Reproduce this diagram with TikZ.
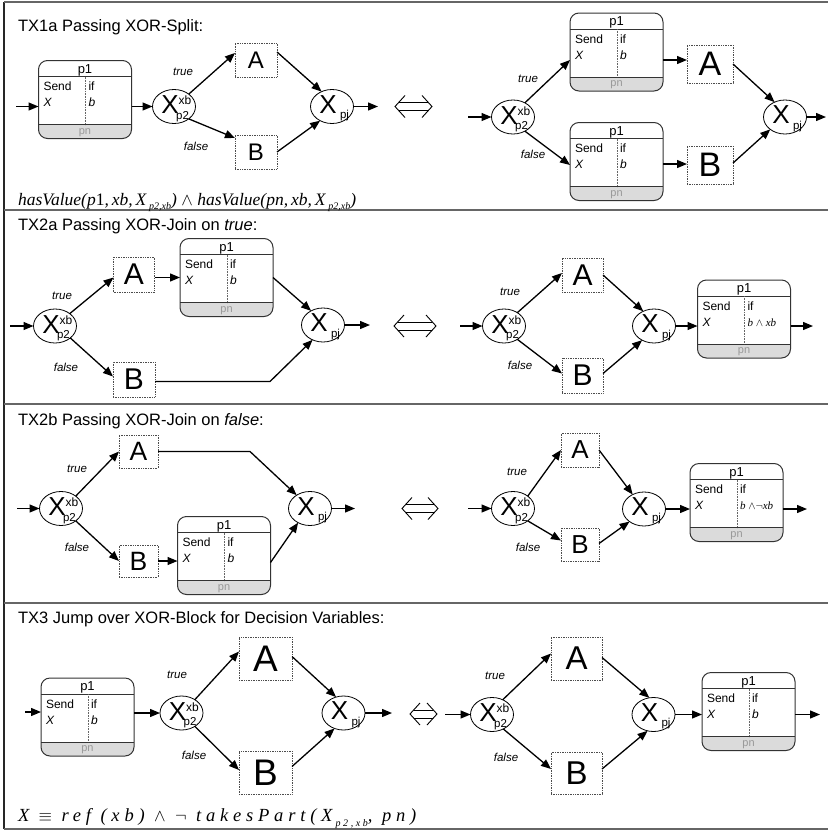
\documentclass[tikz,border=0pt]{standalone}
\usepackage{fontspec}
\setmainfont{Liberation Sans}
\newfontfamily\tms{Liberation Serif}
\newfontfamily\tmssp[LetterSpace=26]{Liberation Serif}
\usetikzlibrary{arrows.meta,shapes.geometric,calc}

\tikzset{
  every node/.style={inner sep=0pt, outer sep=0pt},
  fs/.style={font=\fontsize{#1}{#1}\selectfont},
  arr/.style={line width=1.3pt, -{Triangle[length=10pt,width=8pt]}},
  gw/.style={ellipse, draw, line width=0.8pt, minimum width=43pt, minimum height=34pt, fill=white},
  act/.style n args={3}{draw=black!70, densely dotted, line width=0.7pt, minimum width=#1pt, minimum height=#2pt, font=\fontsize{#3}{#3}\selectfont},
  pframe/.style={draw=black!80, line width=1pt, rounded corners=9pt},
  lab/.style={font=\fontsize{11.5}{12}\selectfont\itshape},
  ttl/.style={anchor=base west, font=\fontsize{16.5}{18}\selectfont},
  frm/.style={draw=black!60, line width=1.6pt},
  eqa/.style={line width=0.9pt},
}

\newcommand\procbox[3]{%
  \node[minimum width=93pt, minimum height=78pt] (#1) at #2 {};
  \begin{scope}
    \clip[rounded corners=9pt] (#1.south west) rectangle (#1.north east);
    \fill[black!14] ($(#1.south west)+(0,-14)$) rectangle (#1.south east);
  \end{scope}
  \draw[black!80, line width=1pt] ($(#1.north west)+(0,16)$) -- ($(#1.north east)+(0,16)$);
  \draw[black!80, line width=1pt] ($(#1.south west)+(0,-14)$) -- ($(#1.south east)+(0,-14)$);
  \draw[black!60, densely dotted, line width=0.6pt] ($(#1.north west)+(47,16)$) -- ($(#1.south west)+(47,-14)$);
  \draw[pframe] (#1.south west) rectangle (#1.north east);
  \node[anchor=base, fs=13] (#1-t) at ($(#1.north)+(0,12.5)$) {p1};
  \node[anchor=base west, fs=12] (#1-s) at ($(#1.north west)+(5,30)$) {Send};
  \node[anchor=base west, fs=12] (#1-x) at ($(#1.north west)+(5,46)$) {\itshape X};
  \node[anchor=base west, fs=12] (#1-i) at ($(#1.north west)+(50,30)$) {if};
  \node[anchor=base west, fs=12] (#1-b) at ($(#1.north west)+(50,46)$) {#3};
  \node[anchor=base, fs=11, text=black!40] (#1-n) at ($(#1.south)+(0,-4.2)$) {pn};
}
\newcommand\splitgw[2]{%
  \node[gw] (#1) at #2 {};
  \node[fs=26] (#1-X) at ($(#1)+(-4,-1.5)$) {X};
  \node[fs=12] (#1-s) at ($(#1)+(11,-6)$) {xb};
  \node[fs=11.5] (#1-b) at ($(#1)+(8.5,10)$) {p2};
}
\newcommand\joingw[2]{%
  \node[gw] (#1) at #2 {};
  \node[fs=26] (#1-X) at ($(#1)+(-4,-2)$) {X};
  \node[fs=11.5] (#1-b) at ($(#1)+(12.5,9.5)$) {pj};
}
\newcommand\eqarrow[3]{%
  \draw[eqa] ({#1+10},{#3-11}) -- (#1,#3) -- ({#1+10},{#3+11});
  \draw[eqa] ({#2-10},{#3-11}) -- (#2,#3) -- ({#2-10},{#3+11});
  \draw[eqa] ({#1+3.6},{#3-4}) -- ({#2-3.6},{#3-4});
  \draw[eqa] ({#1+3.6},{#3+4}) -- ({#2-3.6},{#3+4});
}

\begin{document}
\begin{tikzpicture}[x=1pt,y=-1pt]
\useasboundingbox (0,0) rectangle (828,830);
% frame
\draw[black!85, line width=1.1pt] (4,2) -- (4,829);
\draw[frm] (4,2) -- (828,2);
\draw[frm] (4,210) -- (828,210);
\draw[frm] (4,404) -- (828,404);
\draw[frm] (4,603) -- (828,603);
\draw[frm] (4,829) -- (828,829);

% ===== Section 1 left
\node[ttl] (ttl1) at (18,31) {TX1a Passing XOR-Split:};
\coordinate (in1) at (16,106.5);
\procbox{P1a}{(85,99.5)}{\itshape b}
\splitgw{G1}{(174,106.5)}
\node[act={42}{34}{24}] (A1) at (256,60) {A};
\node[act={42}{34}{24}] (B1) at (256,152) {B};
\joingw{J1}{(332,106.5)}
\coordinate (out1) at (378,106.5);
\node[lab] (T1) at (183,72) {true};
\node[lab] (F1) at (196,146) {false};
\draw[arr] (in1) -- (P1a.west |- in1);
\draw[arr] (P1a.east |- G1) -- (G1.west);
\draw[arr] (G1.40) -- ($(A1.west)+(0,-7)$);
\draw[arr] (G1.-40) -- ($(B1.north west)+(0,3)$);
\draw[arr] ($(A1.east)+(0,-8)$) -- (J1.125);
\draw[arr] (B1.east) -- (J1.230);
\draw[arr] (J1.east) -- (out1);
\eqarrow{395}{432}{106.5}
\node[anchor=base west, fs=17.5] (FX1) at (18,205) {\tms\itshape hasValue(p\textup{1},\,xb,\,X\,\raisebox{-4.5pt}{\fontsize{10}{10}\selectfont p2,xb}) $\wedge$ hasValue(pn,\,xb,\,X\,\raisebox{-4.5pt}{\fontsize{10}{10}\selectfont p2,xb})};

% ===== Section 1 right
\coordinate (in1r) at (468,117);
\splitgw{G1r}{(513,117)}
\procbox{P1b}{(616.5,52)}{\itshape b}
\procbox{P1c}{(616.5,161.5)}{\itshape b}
\node[act={46}{38}{34}] (A1r) at (710,64) {A};
\node[act={46}{38}{34}] (B1r) at (710,165) {B};
\joingw{J1r}{(785,117)}
\coordinate (out1r) at (826,117);
\node[lab] (T1r) at (528,79) {true};
\node[lab] (F1r) at (533,154) {false};
\draw[arr] (in1r) -- (G1r.west);
\draw[arr] (G1r.50) -- ($(P1b.west)+(0,8)$);
\draw[arr] (G1r.-50) -- ($(P1c.west)+(0,3.5)$);
\draw[arr] ($(P1b.east)+(0,8)$) -- ($(A1r.west)+(0,-4)$);
\draw[arr] ($(P1c.east)+(0,2.5)$) -- ($(B1r.west)+(0,-1)$);
\draw[arr] (A1r.east) -- (J1r.125);
\draw[arr] ($(B1r.east)+(0,-2)$) -- (J1r.220);
\draw[arr] (J1r.east) -- (out1r);

% ===== Section 2 left
\node[ttl] (ttl2) at (18,230.5) {TX2a Passing XOR-Join on \textit{true}:};
\coordinate (in2) at (10,326);
\splitgw{G2}{(55,326)}
\node[act={41}{35}{30}] (A2) at (134,274.5) {A};
\node[act={42}{35}{30}] (B2) at (134,379.5) {B};
\procbox{P2a}{(226.5,277.5)}{\itshape b}
\joingw{J2}{(323,325)}
\coordinate (out2) at (370,325);
\coordinate (K2) at (270,381.5);
\node[lab] (T2) at (62,296) {true};
\node[lab] (F2) at (66,367) {false};
\draw[arr] (in2) -- (G2.west);
\draw[arr] (G2.40) -- ($(A2.west)+(0,3)$);
\draw[arr] (G2.-38) -- ($(B2.west)+(0,-3)$);
\draw[arr] ($(A2.east)+(0,3)$) -- (P2a.west);
\draw[arr] (P2a.east) -- (J2.130);
\draw[arr] ($(B2.east)+(0,2)$) -- (K2) -- (J2.235);
\draw[arr] (J2.east) -- (out2);
\eqarrow{394}{436}{326}

% ===== Section 2 right
\coordinate (in2r) at (460,326);
\splitgw{G2r}{(504,326)}
\node[act={41}{34}{30}] (A2r) at (582.5,275) {A};
\node[act={41}{35}{30}] (B2r) at (582.5,375.5) {B};
\joingw{J2r}{(654,326)}
\procbox{P2b}{(744,319)}{\fontsize{11}{11}\selectfont\tms\itshape b $\wedge$ xb}
\coordinate (out2r) at (813,326);
\node[lab] (T2r) at (510,292) {true};
\node[lab] (F2r) at (520,365) {false};
\draw[arr] (in2r) -- (G2r.west);
\draw[arr] (G2r.45) -- ($(A2r.west)+(0,-2)$);
\draw[arr] (G2r.-45) -- ($(B2r.west)+(0,-2)$);
\draw[arr] (A2r.east) -- (J2r.126);
\draw[arr] ($(B2r.east)+(0,-2)$) -- (J2r.230);
\draw[arr] (J2r.east) -- (P2b.west |- J2r.east);
\draw[arr] (P2b.east |- J2r.east) -- (out2r);

% ===== Section 3 left
\node[ttl] (ttl3) at (18,425) {TX2b Passing XOR-Join on \textit{false}:};
\coordinate (in3) at (17,508.5);
\splitgw{G3}{(61,508.5)}
\node[act={39}{33}{26.5}] (A3) at (138.5,451.5) {A};
\node[act={39}{32}{26.5}] (B3) at (138.5,561) {B};
\procbox{P3a}{(224,555.5)}{\itshape b}
\joingw{J3}{(310,508.5)}
\coordinate (K3) at (250,451.5);
\coordinate (out3) at (355,508.5);
\node[lab] (T3) at (77,469) {true};
\node[lab] (F3) at (77,547) {false};
\draw[arr] (in3) -- (G3.west);
\draw[arr] (G3.40) -- (A3.west);
\draw[arr] (G3.-40) -- (B3.west);
\draw[arr] (A3.east) -- (K3) -- (J3.135);
\draw[arr] (B3.east) -- (P3a.west |- B3.east);
\draw[arr] ($(P3a.east)+(0,7)$) -- (J3.230);
\draw[arr] (J3.east) -- (out3);
\eqarrow{402}{438}{508.5}

% ===== Section 3 right
\coordinate (in3r) at (468,508.5);
\splitgw{G3r}{(513,508.5)}
\node[act={38}{34}{26}] (A3r) at (580,450) {A};
\node[act={38}{33}{26}] (B3r) at (580,544.5) {B};
\joingw{J3r}{(644,509)}
\procbox{P3b}{(736.5,502.5)}{\fontsize{11}{11}\selectfont\tms\itshape b $\wedge\neg$xb}
\coordinate (out3r) at (807,509);
\node[lab] (T3r) at (517,472) {true};
\node[lab] (F3r) at (528,547) {false};
\draw[arr] (in3r) -- (G3r.west);
\draw[arr] (G3r.40) -- (A3r.west);
\draw[arr] (G3r.-40) -- ($(B3r.west)+(0,-4)$);
\draw[arr] (A3r.east) -- (J3r.128);
\draw[arr] ($(B3r.east)+(0,-1)$) -- (J3r.221);
\draw[arr] (J3r.east) -- (P3b.west |- J3r.east);
\draw[arr] (P3b.east |- J3r.east) -- (out3r);

% ===== Section 4 left
\node[ttl] (ttl4) at (18,623.5) {TX3 Jump over XOR-Block for Decision Variables:};
\coordinate (in4) at (25,712);
\procbox{P4a}{(87.5,717)}{\itshape b}
\splitgw{G4}{(181.5,713)}
\node[act={53}{43}{37}] (A4) at (265.5,658.5) {A};
\node[act={53}{43}{37}] (B4) at (265.5,772.5) {B};
\joingw{J4}{(343.5,713)}
\coordinate (out4) at (392,713);
\node[lab] (T4) at (177,675) {true};
\node[lab] (F4) at (194,755) {false};
\draw[arr] (in4) -- (P4a.west |- in4);
\draw[arr] (P4a.east |- G4) -- (G4.west);
\draw[arr] (G4.45) -- ($(A4.west)+(0,-7)$);
\draw[arr] (G4.-45) -- ($(B4.west)+(0,-2.5)$);
\draw[arr] ($(A4.east)+(0,-2)$) -- (J4.115);
\draw[arr] ($(B4.east)+(0,-6)$) -- (J4.240);
\draw[arr] (J4.east) -- (out4);
\eqarrow{410}{437}{714}
\node[anchor=base west, fs=18.5] (FX2) at (18,821.5) {\tmssp\itshape X $\equiv$ ref (xb) $\wedge$ $\neg$ takesPart(X\,\raisebox{-4.5pt}{\fontsize{10}{10}\selectfont p2,xb}, pn)};

% ===== Section 4 right
\coordinate (in4r) at (445,714.5);
\splitgw{G4r}{(492,714.5)}
\node[act={51}{43}{33}] (A4r) at (576.5,658.5) {A};
\node[act={51}{42}{33}] (B4r) at (576.5,773) {B};
\joingw{J4r}{(653.5,714.5)}
\procbox{P4b}{(748.5,711.5)}{\itshape b}
\coordinate (out4r) at (820,714.5);
\node[lab] (T4r) at (495,676) {true};
\node[lab] (F4r) at (506,757) {false};
\draw[arr] (in4r) -- (G4r.west);
\draw[arr] (G4r.54) -- ($(A4r.west)+(0,-5)$);
\draw[arr] (G4r.-52) -- ($(B4r.west)+(0,-4)$);
\draw[arr] ($(A4r.east)+(0,-1)$) -- (J4r.104);
\draw[arr] ($(B4r.east)+(0,-4)$) -- (J4r.250);
\draw[arr] (J4r.east) -- (P4b.west |- J4r.east);
\draw[arr] (P4b.east |- J4r.east) -- (out4r);
\end{tikzpicture}
\end{document}
